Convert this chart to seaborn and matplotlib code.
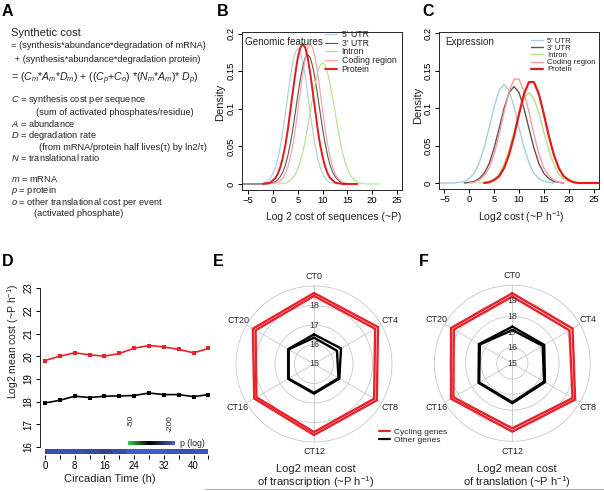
import numpy as np
import matplotlib
matplotlib.use("Agg")
import matplotlib.pyplot as plt
import seaborn as sns
from matplotlib.colors import LinearSegmentedColormap, Normalize
from matplotlib.cm import ScalarMappable
from matplotlib.lines import Line2D

W, H = 604, 491

# ---------------- data ----------------
FEATURES = ["5' UTR", "3' UTR", "Intron", "Coding region", "Protein"]
FEATURE_COLORS = ["#a6cee3", "#5e5454", "#b2df8a", "#fb9a99", "#e41a1c"]

# B: density of sequence cost, read every 0.5 unit starting at B_START
B_START = [-6, -6, 1, -0.5, -2]
B_UTR5 = [0, 0, 0, 0, 0, 0, 0, 0.001, 0.001, 0.002, 0.004, 0.008, 0.014, 0.022, 0.034,
          0.051, 0.071, 0.094, 0.119, 0.143, 0.162, 0.175, 0.180, 0.175, 0.162, 0.143,
          0.119, 0.094, 0.071, 0.051, 0.034, 0.022, 0.014, 0.008, 0.004, 0.002, 0.001,
          0.001, 0, 0, 0]
B_UTR3 = [0, 0, 0, 0, 0, 0, 0, 0, 0, 0, 0, 0.001, 0.002, 0.003, 0.006, 0.010, 0.016,
          0.025, 0.038, 0.054, 0.073, 0.095, 0.118, 0.139, 0.156, 0.168, 0.172, 0.168,
          0.156, 0.139, 0.118, 0.095, 0.073, 0.054, 0.038, 0.025, 0.016, 0.010, 0.006,
          0.003, 0.002, 0.001, 0, 0]
B_INTRON = [0, 0, 0.001, 0.001, 0.003, 0.005, 0.008, 0.013, 0.020, 0.030, 0.042, 0.058,
            0.076, 0.096, 0.115, 0.133, 0.148, 0.158, 0.161, 0.158, 0.148, 0.133, 0.115,
            0.096, 0.076, 0.058, 0.042, 0.030, 0.020, 0.013, 0.008, 0.005, 0.003, 0.001,
            0.001, 0, 0, 0, 0, 0, 0, 0]
B_CODING = [0, 0.001, 0.001, 0.002, 0.005, 0.008, 0.014, 0.023, 0.036, 0.052, 0.073,
            0.098, 0.123, 0.147, 0.168, 0.181, 0.186, 0.181, 0.168, 0.147, 0.123, 0.098,
            0.073, 0.052, 0.036, 0.023, 0.014, 0.008, 0.005, 0.002, 0.001, 0.001, 0]
B_PROTEIN = [0, 0.001, 0.001, 0.002, 0.005, 0.008, 0.014, 0.023, 0.036, 0.052, 0.073,
             0.098, 0.123, 0.147, 0.168, 0.181, 0.186, 0.181, 0.168, 0.147, 0.123, 0.098,
             0.073, 0.052, 0.036, 0.023, 0.014, 0.008, 0.005, 0.002, 0.001, 0.001, 0,
             0, 0, 0, 0, 0, 0]

# C: density of expression cost, read every 1 unit starting at C_START
C_START = [-6, -1, 2, 0, 3]
C_UTR5 = [0, 0, 0, 0, 0.001, 0.002, 0.006, 0.013, 0.027, 0.048, 0.074, 0.102, 0.124,
          0.132, 0.124, 0.102, 0.074, 0.048, 0.027, 0.013, 0.006, 0.002, 0.001, 0]
C_UTR3 = [0, 0.001, 0.002, 0.006, 0.013, 0.026, 0.047, 0.073, 0.100, 0.121, 0.129,
          0.121, 0.100, 0.073, 0.047, 0.026, 0.013, 0.006, 0.002, 0.001, 0]
C_INTRON = [0, 0.001, 0.002, 0.005, 0.012, 0.025, 0.044, 0.068, 0.094, 0.113, 0.121,
            0.113, 0.094, 0.068, 0.044, 0.025, 0.012, 0.005, 0.002, 0.001, 0]
C_CODING = [0, 0.001, 0.004, 0.010, 0.020, 0.039, 0.065, 0.095, 0.122, 0.139, 0.139,
            0.122, 0.095, 0.065, 0.039, 0.020, 0.010, 0.004, 0.001, 0]
C_PROTEIN = [0, 0.001, 0.004, 0.009, 0.020, 0.038, 0.063, 0.092, 0.119, 0.135, 0.135,
             0.119, 0.092, 0.063, 0.038, 0.020, 0.009, 0.004, 0.001, 0, 0, 0, 0, 0]

# D: mean cost over circadian time
CT_D = [0, 4, 8, 12, 16, 20, 24, 28, 32, 36, 40, 44]
D_CYCLING = [19.81, 20.00, 20.15, 20.06, 20.00, 20.12, 20.35, 20.47, 20.41, 20.30, 20.15, 20.34]
D_OTHER = [17.94, 18.06, 18.24, 18.18, 18.24, 18.25, 18.27, 18.38, 18.31, 18.31, 18.22, 18.31]
P_LOG = [-200, -203, -198, -195, -185, -197, -210, -212, -210, -205, -200, -205]

# E/F: radar, first 6 values = CT0-CT20, last 6 = CT24-CT44
CT_RADAR = [0, 4, 8, 12, 16, 20]
CT_LABELS = ["CT0", "CT4", "CT8", "CT12", "CT16", "CT20"]
E_CYCLING = [18.49, 18.62, 18.56, 18.49, 18.41, 18.46, 18.64, 18.79, 18.72, 18.64, 18.54, 18.62]
E_OTHER = [16.35, 16.36, 16.45, 16.48, 16.50, 16.50, 16.52, 16.60, 16.50, 16.52, 16.53, 16.53]
F_CYCLING = [19.28, 19.23, 19.46, 19.17, 19.36, 19.33, 19.49, 19.46, 19.65, 19.38, 19.54, 19.53]
F_OTHER = [17.13, 17.25, 17.35, 17.50, 17.45, 17.40, 17.35, 17.36, 17.42, 17.56, 17.50, 17.47]

RED = "#e8222a"
TXT = "#222222"

# ---------------- style ----------------
sns.set_style("ticks")
plt.rcParams["font.family"] = ["Liberation Sans", "DejaVu Sans"]
plt.rcParams["mathtext.fontset"] = "custom"
plt.rcParams["mathtext.rm"] = "Liberation Sans"
plt.rcParams["mathtext.it"] = "Liberation Sans:italic"
plt.rcParams["axes.linewidth"] = 0.7

fig = plt.figure(figsize=(W / 100, H / 100), dpi=100)


def add_ax(l, t, r, b, **kw):
    return fig.add_axes([l / W, 1 - b / H, (r - l) / W, (b - t) / H], **kw)


def ptext(x, y, s, **kw):
    kw.setdefault("color", TXT)
    return fig.text(x / W, 1 - y / H, s, **kw)


# panel letters
for letter, x, y in [("A", 2, 16), ("B", 217, 16), ("C", 422, 16),
                     ("D", 2, 266), ("E", 213, 266), ("F", 419, 266)]:
    ptext(x, y, letter, fontsize=11.5, fontweight="bold", color="black", va="baseline")

# ---------------- A: text ----------------
ptext(11, 33, "Synthetic cost", fontsize=8, va="center")
ptext(11, 46, "= (synthesis*abundance*degradation of mRNA)", fontsize=6.7, va="center")
ptext(12, 59, " + (synthesis*abundance*degradation protein)", fontsize=6.7, va="center")
ptext(11, 79, "= ($C_m$*$A_m$*$D_m$) + (($C_p$+$C_o$) *($N_m$*$A_m$)* $D_p$)",
      fontsize=7.6, va="center")
ptext(11, 100, "$C$ = synthesis cost per sequence", fontsize=6.7, va="center")
ptext(36, 112, "(sum of activated phosphates/residue)", fontsize=6.7, va="center")
ptext(11, 123.5, "$A$ = abundance", fontsize=6.7, va="center")
ptext(11, 135, "$D$ = degradation rate", fontsize=6.7, va="center")
ptext(39, 147, "(from mRNA/protein half lives(τ) by ln2/τ)", fontsize=6.7, va="center")
ptext(11, 157, "$N$ = translational ratio", fontsize=6.7, va="center")
ptext(11, 179, "$m$ = mRNA", fontsize=6.7, va="center")
ptext(11, 190.3, "$p$ = protein", fontsize=6.7, va="center")
ptext(11, 202.3, "$o$ = other translational cost per event", fontsize=6.7, va="center")
ptext(34, 213.5, "(activated phosphate)", fontsize=6.7, va="center")


# ---------------- B and C: densities ----------------
def density_panel(ax, starts, step, curves, widths):
    for name, col, lw, x0, vals in zip(FEATURES, FEATURE_COLORS, widths, starts, curves):
        xs = x0 + step * np.arange(len(vals))
        sns.lineplot(x=xs, y=vals, color=col, lw=lw, label=name, ax=ax)
    ax.set_ylim(-0.008, 0.202)
    ax.set_xticks([-5, 0, 5, 10, 15, 20, 25])
    ax.set_yticks([0, 0.05, 0.1, 0.15, 0.2])
    ax.set_yticklabels(["0", "0.05", "0.1", "0.15", "0.2"])
    ax.tick_params(length=3, width=0.7, pad=1.5, labelsize=6.8, colors="black")
    ax.tick_params(axis="y", labelrotation=90)
    for lbl in ax.get_yticklabels():
        lbl.set_va("center")
    for sp in ax.spines.values():
        sp.set_visible(True)
        sp.set_linewidth(0.7)
    ax.set_xlabel("")
    ax.set_ylabel("")


axB = add_ax(242, 32, 402, 190)
density_panel(axB, B_START, 0.5, [B_UTR5, B_UTR3, B_INTRON, B_CODING, B_PROTEIN],
              [0.8, 0.8, 0.8, 0.8, 1.4])
axB.set_xlim(-6.25, 26.0)
axB.legend(loc="upper left", bbox_to_anchor=(325 / W, 1 - 30 / H),
           bbox_transform=fig.transFigure, frameon=False, fontsize=6.3,
           handlelength=1.4, handletextpad=0.5, labelspacing=-0.03,
           borderpad=0, borderaxespad=0)
ptext(245, 42, "Genomic features", fontsize=7.1, va="center")
ptext(334, 217, "Log 2 cost of sequences (~P)", fontsize=7.5, ha="center", va="center")
ptext(220, 102, "Density", fontsize=8, rotation=90, ha="center", va="center")

axC = add_ax(439, 32, 599, 189)
density_panel(axC, C_START, 1, [C_UTR5, C_UTR3, C_INTRON, C_CODING, C_PROTEIN],
              [1.0, 1.0, 1.0, 1.0, 1.6])
axC.set_xlim(-6.1, 26.1)
axC.legend(loc="upper left", bbox_to_anchor=(531 / W, 1 - 37.5 / H),
           bbox_transform=fig.transFigure, frameon=False, fontsize=5.6,
           handlelength=1.6, handletextpad=0.5, labelspacing=-0.04,
           borderpad=0, borderaxespad=0)
ptext(445, 42, "Expression", fontsize=7.1, va="center")
ptext(521, 217, "Log2 cost (~P h$^{-1}$)", fontsize=7.5, ha="center", va="center")
ptext(418, 105, "Density", fontsize=8, rotation=90, ha="center", va="center")

# ---------------- D: time course ----------------
axD = add_ax(40, 227, 214, 455)
sns.lineplot(x=CT_D, y=D_CYCLING, color=RED, lw=1.2, marker="s", markersize=2.6,
             markeredgewidth=0, ax=axD)
sns.lineplot(x=CT_D, y=D_OTHER, color="black", lw=1.2, marker="s", markersize=2.6,
             markeredgewidth=0, ax=axD)
axD.set_xlim(-1.35, 45.5)
axD.set_ylim(15.65, 25.69)
axD.set_yticks(range(16, 24))
axD.set_xticks(CT_D)
axD.set_xticklabels([str(t) if t % 8 == 0 and t < 44 else "" for t in CT_D])
axD.tick_params(length=3, width=0.7, pad=1.5, labelsize=7, colors="black")
axD.tick_params(axis="y", labelrotation=90)
for lbl in axD.get_yticklabels():
    lbl.set_va("center")
sns.despine(ax=axD, top=True, right=True, bottom=True)
axD.spines["left"].set_bounds(16, 23)
axD.set_xlabel("")
axD.set_ylabel("")
ptext(110, 479, "Circadian Time (h)", fontsize=8, ha="center", va="center")
ptext(13, 341, "Log2 mean cost (~P h$^{-1}$)", fontsize=7.5, rotation=90,
      ha="center", va="center")

pcmap = LinearSegmentedColormap.from_list(
    "pcol", [(0, "#4a60d8"), (0.55, "#000000"), (1, "#3fcf3f")])
PMIN, PMAX = -219, -38

stripax = add_ax(44.5, 449, 207.5, 454.3)
sns.heatmap(np.array([P_LOG]), ax=stripax, cmap=pcmap, vmin=PMIN, vmax=PMAX,
            cbar=False, xticklabels=False, yticklabels=False)

cax = add_ax(128, 440.7, 175, 445.3)
cb = fig.colorbar(ScalarMappable(norm=Normalize(PMIN, PMAX), cmap=pcmap), cax=cax,
                  orientation="horizontal")
cb.outline.set_visible(False)
cax.invert_xaxis()
cax.set_xticks([])
for v in [-50, -200]:
    cax.text(v, 6.6, str(v), rotation=90, ha="center", va="top", fontsize=6,
             color=TXT, transform=cax.get_xaxis_transform())
ptext(180, 443, "p (log)", fontsize=6.3, va="center")


# ---------------- E and F: radar ----------------
def radar(ax, cyc, oth, rmax, ring_labels, label_r):
    theta = np.deg2rad(np.array(CT_RADAR) * 15.0)
    closed = np.append(theta, 2 * np.pi)
    ax.set_theta_zero_location("N")
    ax.set_theta_direction(-1)
    for vals, col in [(oth[:6], "black"), (oth[6:], "black"),
                      (cyc[:6], RED), (cyc[6:], RED)]:
        sns.lineplot(x=closed, y=np.append(vals, vals[0]), color=col, lw=1.7,
                     sort=False, estimator=None, ax=ax)
    ax.set_ylim(15, rmax)
    ax.set_yticks(range(16, rmax))
    ax.set_yticklabels([])
    ax.set_xticks(theta)
    ax.set_xticklabels([])
    ax.set_xlabel("")
    ax.set_ylabel("")
    ax.grid(True, color="#c8c8c8", lw=0.6)
    ax.spines["polar"].set_color("#c8c8c8")
    ax.spines["polar"].set_linewidth(0.6)
    ax.set_axisbelow(True)
    for v in ring_labels:
        ax.text(0, v, str(v), ha="center", va="center", fontsize=6.3, color="#333333")
    for t, lab in zip(theta, CT_LABELS):
        ax.text(t, label_r, lab, ha="center", va="center", fontsize=6.5, color=TXT)


axE = add_ax(236, 286, 392, 442, projection="polar")
radar(axE, E_CYCLING, E_OTHER, 19, [15, 16, 17, 18], 19.5)
axF = add_ax(434.3, 285.3, 590.3, 441.3, projection="polar")
radar(axF, F_CYCLING, F_OTHER, 20, [15, 16, 17, 18, 19], 20.64)

fig.legend(handles=[Line2D([], [], color=RED, lw=1.6), Line2D([], [], color="#111111", lw=1.6)],
           labels=["Cycling genes", "Other genes"], loc="upper left",
           bbox_to_anchor=(379 / W, 1 - 428 / H), frameon=False, fontsize=6,
           handlelength=1.3, handletextpad=0.5, labelspacing=0.05,
           borderpad=0, borderaxespad=0)

ptext(316, 468.5, "Log2 mean cost", fontsize=8, ha="center", va="center")
ptext(316, 482, "of transcription (~P h$^{-1}$)", fontsize=8, ha="center", va="center")
ptext(517, 468.5, "Log2 mean cost", fontsize=8, ha="center", va="center")
ptext(517, 482, "of translation (~P h$^{-1}$)", fontsize=8, ha="center", va="center")

fig.add_artist(Line2D([205 / W, 1], [1 - 489 / H, 1 - 489 / H], color="#b8b8b8", lw=0.8))

fig.savefig("out.png", dpi=100)
